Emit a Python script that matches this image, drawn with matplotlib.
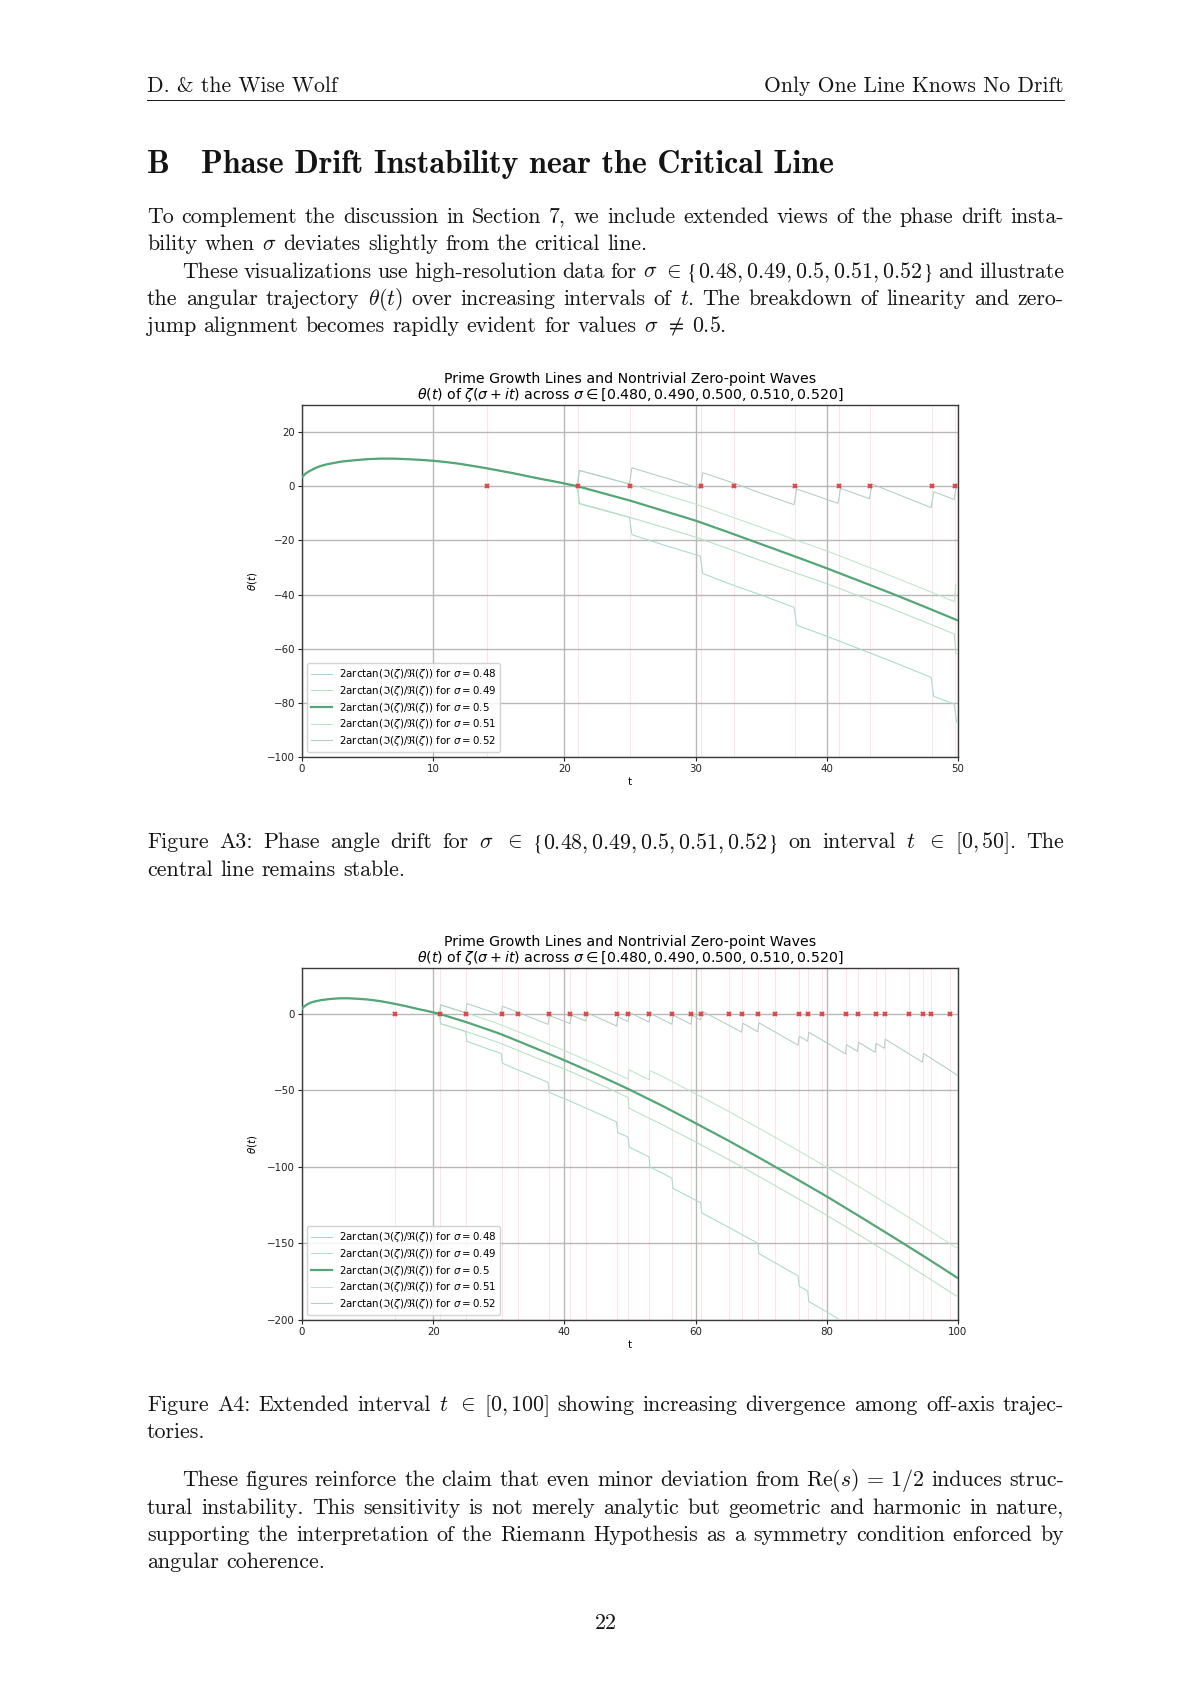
import matplotlib
matplotlib.use("Agg")
import matplotlib.pyplot as plt

W, H = 1200, 1697
plt.rcParams['font.family'] = ['DejaVu Sans']
plt.rcParams['mathtext.fontset'] = 'dejavusans'

# ---------------------------------------------------------------- data
zeros_t = [14.13, 21.02, 25.01, 30.42, 32.94, 37.59, 40.92, 43.33, 48.01, 49.77,
           52.97, 56.45, 59.35, 60.83, 65.11, 67.08, 69.55, 72.07, 75.70, 77.14,
           79.34, 82.91, 84.74, 87.43, 88.81, 92.49, 94.65, 95.87, 98.83]
zeros_theta = [0.0] * len(zeros_t)

sigmas = [0.48, 0.49, 0.5, 0.51, 0.52]

t_050 = [0, 0.25, 0.5, 1, 1.5, 2, 3, 4, 5, 6, 7, 8, 9, 10, 11, 12, 13, 14, 15, 16,
         17, 18, 19, 20, 21, 22.5, 25, 27.5, 30, 32.5, 35, 37.5, 40, 42.5, 45, 47.5,
         50, 55, 60, 65, 70, 75, 80, 85, 90, 95, 100]
theta_050 = [3.3, 4.6, 5.4, 6.7, 7.6, 8.2, 9.1, 9.6, 10.0, 10.2, 10.2, 10.0, 9.75, 9.4,
             8.9, 8.3, 7.5, 6.7, 5.8, 4.9, 3.9, 2.9, 2.0, 1.0, 0.0, -2.0, -5.3, -9.0,
             -12.7, -17.0, -21.4, -25.8, -30.3, -35.0, -39.7, -44.6, -49.6, -60.2,
             -71.4, -82.8, -94.7, -106.9, -119.3, -132.3, -145.5, -158.9, -172.7]

# off-axis curves after they leave the sigma = 0.5 curve near t = 21
t_048 = [21.0, 21.15, 24.95, 25.15, 27.5, 30.35, 30.55, 32.5, 35.0, 37.5, 37.7, 40.0,
         42.5, 45.0, 47.95, 48.15, 49.7, 49.9, 52.9, 53.05, 55.0, 56.4, 56.55, 59.35,
         60.78, 60.93, 65.0, 69.48, 69.65, 72.07, 75.62, 75.8, 77.08, 77.25, 79.34,
         82.0, 85.0]
theta_048 = [0.0, -6.5, -11.5, -17.9, -21.6, -25.8, -32.2, -35.9, -40.2, -44.7, -51.3,
             -55.4, -60.1, -64.8, -70.6, -77.6, -80.4, -87.1, -93.4, -100.1, -104.2,
             -107.4, -114.0, -120.2, -123.5, -130.0, -139.3, -149.9, -156.6, -162.5,
             -171.2, -177.9, -181.1, -187.9, -193.1, -199.9, -207.7]

t_049 = [21.0, 21.1, 22.5, 25.0, 27.5, 30.0, 32.5, 35.0, 37.5, 40.0, 42.5, 45.0, 47.5,
         49.72, 49.82, 55.0, 60.0, 65.0, 70.0, 75.0, 80.0, 85.0, 90.0, 95.0, 100.0]
theta_049 = [0.0, -6.3, -8.1, -11.5, -15.1, -18.8, -23.1, -27.5, -31.8, -36.0, -40.6,
             -45.3, -50.2, -54.6, -61.6, -72.5, -83.7, -95.1, -107.0, -119.2, -131.6,
             -144.6, -157.8, -171.2, -185.0]

t_051 = [21.0, 21.1, 22.5, 25.0, 27.5, 30.0, 32.5, 35.0, 37.5, 40.0, 42.5, 45.0, 47.5,
         49.72, 49.82, 52.92, 53.02, 55.0, 60.0, 65.0, 70.0, 75.0, 80.0, 85.0, 90.0,
         95.0, 100.0]
theta_051 = [0.0, 5.9, 4.1, 0.8, -2.9, -6.6, -10.9, -15.2, -19.6, -23.9, -28.6, -33.3,
             -38.2, -42.6, -36.5, -43.0, -37.0, -41.0, -52.2, -63.6, -75.5, -87.7,
             -100.1, -113.1, -126.3, -139.7, -153.5]

t_052 = [21.0, 21.15, 24.95, 25.15, 30.35, 30.55, 32.94, 35.0, 37.5, 37.7, 40.85, 41.05,
         43.25, 43.45, 45.0, 47.95, 48.15, 49.7, 49.9, 52.9, 53.05, 56.4, 56.55, 59.3,
         59.45, 60.78, 60.93, 65.11, 67.0, 67.2, 69.48, 69.65, 72.07, 75.62, 75.8,
         77.08, 77.25, 79.34, 82.85, 83.0, 84.68, 84.85, 87.37, 87.5, 88.75, 88.9,
         92.49, 94.58, 94.75, 95.87, 98.83, 100.0]
theta_052 = [0.0, 5.8, 0.8, 6.8, -0.8, 5.0, 1.1, -2.6, -6.8, -1.0, -6.3, -0.8, -4.6,
             0.8, -2.2, -7.9, -2.0, -4.9, 1.0, -5.4, 0.4, -6.8, -0.7, -6.8, -0.8, -3.9,
             1.9, -7.5, -11.9, -6.1, -11.7, -5.8, -11.7, -20.4, -14.6, -17.8, -12.0,
             -17.2, -26.1, -20.1, -24.5, -18.6, -25.1, -19.2, -22.4, -16.5, -26.0,
             -31.6, -25.9, -29.0, -37.0, -40.5]

x_ticks_a = [0, 10, 20, 30, 40, 50]
y_ticks_a = [20, 0, -20, -40, -60, -80, -100]
x_ticks_b = [0, 20, 40, 60, 80, 100]
y_ticks_b = [0, -50, -100, -150, -200]

# ---------------------------------------------------------------- figure
fig = plt.figure(figsize=(W / 100, H / 100), dpi=100)
fig.patch.set_facecolor('white')
renderer = fig.canvas.get_renderer()


def fx(x):
    return x / W


def fy(y):
    return 1 - y / H


def width_of(s, style):
    t = fig.text(0, 0, s, **style)
    w = t.get_window_extent(renderer=renderer).width
    t.remove()
    return w


def tokens(s):
    out, cur, inmath = [], '', False
    for ch in s:
        if ch == '$':
            inmath = not inmath
        if ch == ' ' and not inmath:
            if cur:
                out.append(cur)
            cur = ''
        else:
            cur += ch
    if cur:
        out.append(cur)
    return out


INK = '#141414'
base = dict(fontfamily='cmr10', fontsize=16, math_fontfamily='cm', color=INK)
body_size = 16 * 177.0 / width_of('angular coherence.', base)
BODY = dict(base, fontsize=body_size)
BRACE = dict(fontfamily='STIXGeneral', fontsize=body_size, color=INK)
hdr_size = 16 * 190.0 / width_of('D. & the Wise Wolf', base)
HDR = dict(base, fontsize=hdr_size)
bold = dict(fontfamily='cmb10', fontsize=20, math_fontfamily='cm', color=INK)
head_size = 20 * 633.0 / width_of('Phase Drift Instability near the Critical Line', bold)
HEAD = dict(bold, fontsize=head_size)


def word_parts(tok, style):
    if tok.startswith(r'$\{') and r'\}$' in tok:
        i = tok.index(r'\}$')
        parts = [('{', BRACE), ('$' + tok[3:i] + '$', style), ('}', BRACE)]
        if tok[i + 3:]:
            parts.append((tok[i + 3:], style))
        return parts
    return [(tok, style)]


def text_line(s, x0, y, style, right=None):
    words = [word_parts(tk, style) for tk in tokens(s)]
    pw = [[width_of(p, st) for p, st in wd] for wd in words]
    ws = [sum(p) for p in pw]
    if right is None or len(words) == 1:
        gap = 0.333 * style['fontsize'] * 100 / 72
    else:
        gap = (right - x0 - sum(ws)) / (len(words) - 1)
    x = x0
    for wd, pws, w in zip(words, pw, ws):
        xx = x
        for (p, st), pwid in zip(wd, pws):
            fig.text(fx(xx), fy(y), p, ha='left', va='baseline', **st)
            xx += pwid
        x += w + gap


L, R = 147, 1064
IND = 182

# header
fig.text(fx(L), fy(92), 'D. & the Wise Wolf', ha='left', va='baseline', **HDR)
fig.text(fx(R), fy(92), 'Only One Line Knows No Drift', ha='right', va='baseline', **HDR)
fig.add_artist(plt.Line2D([fx(L), fx(R)], [fy(99.5), fy(99.5)], color=INK, lw=0.7))

# section heading
fig.text(fx(L), fy(173), 'B', ha='left', va='baseline', **HEAD)
fig.text(fx(201), fy(173), 'Phase Drift Instability near the Critical Line',
         ha='left', va='baseline', **HEAD)

# paragraphs
text_line('To complement the discussion in Section 7, we include extended views of the phase drift insta-',
          L, 223, BODY, R)
text_line(r'bility when $\sigma$ deviates slightly from the critical line.', L, 250.2, BODY)
text_line(r'These visualizations use high-resolution data for $\sigma$ $\in$ $\{0.48, 0.49, 0.5, 0.51, 0.52\}$ and illustrate',
          IND, 277.5, BODY, R)
text_line(r'the angular trajectory $\theta(t)$ over increasing intervals of $t$. The breakdown of linearity and zero-',
          L, 304.7, BODY, R)
text_line(r'jump alignment becomes rapidly evident for values $\sigma$ $\neq$ $0.5$.', L, 332, BODY)

text_line(r'Figure A3: Phase angle drift for $\sigma$ $\in$ $\{0.48, 0.49, 0.5, 0.51, 0.52\}$ on interval $t$ $\in$ $[0, 50]$. The',
          L, 848.5, BODY, R)
text_line('central line remains stable.', L, 876, BODY)

text_line(r'Figure A4: Extended interval $t$ $\in$ $[0, 100]$ showing increasing divergence among off-axis trajec-',
          L, 1411, BODY, R)
text_line('tories.', L, 1438.5, BODY)

text_line(r'These figures reinforce the claim that even minor deviation from $\mathrm{Re}(s)\,=\,1/2$ induces struc-',
          IND, 1486.5, BODY, R)
text_line('tural instability. This sensitivity is not merely analytic but geometric and harmonic in nature,',
          L, 1514, BODY, R)
text_line('supporting the interpretation of the Riemann Hypothesis as a symmetry condition enforced by',
          L, 1541, BODY, R)
text_line('angular coherence.', L, 1568, BODY)

fig.text(fx(605.5), fy(1629), '22', ha='center', va='baseline', **BODY)

# ---------------------------------------------------------------- charts
TITLE = ('Prime Growth Lines and Nontrivial Zero-point Waves\n'
         r'$\theta(t)$ of $\zeta(\sigma+it)$ across $\sigma \in [0.480, 0.490, 0.500, 0.510, 0.520]$')
colors = {0.48: '#a6dcc9', 0.49: '#b3e1c3', 0.5: '#55a677', 0.51: '#bde6cb', 0.52: '#b2cec2'}
pre_t = [t for t in t_050 if t < 21]
pre_th = theta_050[:len(pre_t)]
series = {
    0.48: (pre_t + t_048, pre_th + theta_048),
    0.49: (pre_t + t_049, pre_th + theta_049),
    0.5: (t_050, theta_050),
    0.51: (pre_t + t_051, pre_th + theta_051),
    0.52: (pre_t + t_052, pre_th + theta_052),
}
TICK = 7.4


def chart(top, bottom, xmax, ymin, xt, yt):
    ax = fig.add_axes([fx(302), fy(bottom), (958 - 302) / W, (bottom - top) / H])
    ax.set_xlim(0, xmax)
    ax.set_ylim(ymin, 30)
    ax.grid(True, color='#b8b8b8', lw=1.0, zorder=0)
    ax.set_axisbelow(True)
    for z in zeros_t:
        ax.axvline(z, color='#f08080', lw=0.7, alpha=0.22, zorder=1)
    for s in sigmas:
        tt, th = series[s]
        lbl = r'2arctan($\Im(\zeta)/\Re(\zeta)$) for $\sigma = %s$' % s
        if s == 0.5:
            ax.plot(tt, th, color=colors[s], lw=1.6, zorder=4, label=lbl)
        else:
            ax.plot(tt, th, color=colors[s], lw=0.75, zorder=3, label=lbl)
    ax.plot(zeros_t, zeros_theta, ls='none', marker='x', ms=3.4, mew=1.5,
            color='#e04848', zorder=5)
    ax.set_xticks(xt)
    ax.set_yticks(yt)
    ax.tick_params(labelsize=TICK, length=3, width=0.8, pad=2, colors='#222222')
    for sp in ax.spines.values():
        sp.set_color('#3a3a3a')
        sp.set_linewidth(1.0)
    ax.set_xlabel('t', fontsize=TICK, labelpad=2)
    ax.set_ylabel(r'$\theta(t)$', fontsize=TICK, labelpad=6)
    ax.set_title(TITLE, fontsize=10.2, linespacing=1.0, pad=4)
    ax.legend(loc='lower left', fontsize=TICK, handlelength=2.0, handletextpad=0.7,
              labelspacing=0.25, borderpad=0.4, framealpha=0.85, edgecolor='#cccccc',
              fancybox=True)
    return ax


chart(405, 757, 50, -100, x_ticks_a, y_ticks_a)
chart(968, 1320, 100, -200, x_ticks_b, y_ticks_b)

fig.savefig('out.png', dpi=100, facecolor='white')
